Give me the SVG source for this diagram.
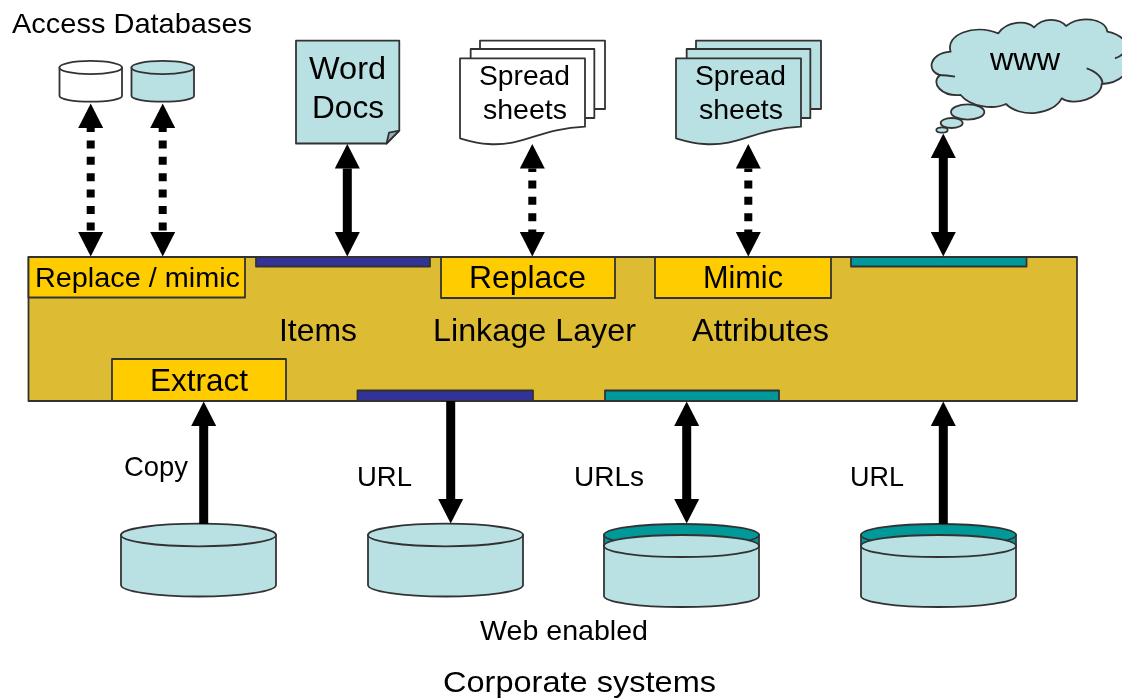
<svg xmlns="http://www.w3.org/2000/svg" width="1122" height="700" viewBox="0 0 1122 700">
<style>
text{font-family:"Liberation Sans",Arial,sans-serif;font-size:28px;fill:#000}
.w{font-size:32px}
.c{font-size:30px}
.s{stroke:#333;stroke-width:1.8;stroke-linejoin:round}
.z{stroke:#333;stroke-width:5.4;stroke-linejoin:round}
.y{fill:#FFCC00}.g{fill:#DDBB33}.n{fill:#333399}.t{fill:#009999}.b{fill:#B9E0E3}.e{fill:#fff}
.a{stroke:#000;fill:none}
.a1{stroke-width:9;marker-end:url(#h)}
.a2{stroke-width:9;marker-start:url(#h);marker-end:url(#h)}
.a3{stroke-width:8;stroke-dasharray:8 8.4;marker-start:url(#h);marker-end:url(#h)}
</style>
<defs>
<marker id="h" markerUnits="userSpaceOnUse" markerWidth="25" markerHeight="25" viewBox="0 0 25 25" refX="0" refY="12.5" orient="auto-start-reverse" overflow="visible"><path d="M0 0L24.500 12.500L0 25Z" fill="#000"/></marker>
<filter id="soft" x="0" y="0" width="100%" height="100%"><feGaussianBlur stdDeviation="0.45"/></filter>
</defs>
<rect width="1122" height="700" fill="#fff"/>
<g filter="url(#soft)">
<g id="linkage-layer">
<rect class="s g" x="28.500" y="257" width="1048.500" height="144"/>
<text class="w" x="279" y="341" textLength="78" lengthAdjust="spacingAndGlyphs">Items</text>
<text class="w" x="433" y="341" textLength="203" lengthAdjust="spacingAndGlyphs">Linkage Layer</text>
<text class="w" x="692" y="341" textLength="137" lengthAdjust="spacingAndGlyphs">Attributes</text>
</g>
<g id="replace-mimic"><rect class="s y" x="28.500" y="257" width="216.500" height="40.500"/><text x="35" y="287" textLength="205" lengthAdjust="spacingAndGlyphs">Replace / mimic</text></g>
<g id="bar-top-blue"><rect class="s n" x="256" y="257" width="174" height="9.500"/></g>
<g id="replace"><rect class="s y" x="441" y="257" width="174" height="41"/><text class="w" x="469" y="288" textLength="117" lengthAdjust="spacingAndGlyphs">Replace</text></g>
<g id="mimic"><rect class="s y" x="655" y="257" width="176" height="41"/><text class="w" x="703" y="288" textLength="80" lengthAdjust="spacingAndGlyphs">Mimic</text></g>
<g id="bar-top-teal"><rect class="s t" x="851" y="257" width="175.500" height="9.500"/></g>
<g id="extract"><rect class="s y" x="112" y="359" width="174" height="42"/><text class="w" x="150" y="391" textLength="98" lengthAdjust="spacingAndGlyphs">Extract</text></g>
<g id="bar-bottom-blue"><rect class="s n" x="357.500" y="390.500" width="175.500" height="10.500"/></g>
<g id="bar-bottom-teal"><rect class="s t" x="605" y="390.500" width="174" height="10.500"/></g>

<g id="access-label"><text x="12" y="33" textLength="240" lengthAdjust="spacingAndGlyphs">Access Databases</text></g>
<g id="access-db-1">
<path class="s e" d="M59.500 67.500V96A31.250 5.700 0 0 0 122 96V67.500Z"/><ellipse class="s e" cx="90.700" cy="67.500" rx="31.300" ry="6.700"/>
</g>
<g id="access-db-2">
<path class="s b" d="M131.500 67.500V96A31.250 5.700 0 0 0 194 96V67.500Z"/><ellipse class="s b" cx="162.700" cy="67.500" rx="31.300" ry="6.700"/>
</g>

<g id="word-docs">
<path class="s b" d="M296 40.700H399.300V130.700L386.500 143.500H296Z"/>
<path class="s" fill="#94B0B3" d="M386.500 143.500L389 132.700L399.300 130.700Z"/>
<text class="w" x="309" y="79" textLength="77" lengthAdjust="spacingAndGlyphs">Word</text>
<text class="w" x="312" y="118" textLength="72" lengthAdjust="spacingAndGlyphs">Docs</text>
</g>

<g id="spreadsheets-white">
<g transform="translate(440 0) scale(.33333)">
<rect class="z e" x="120" y="122" width="375" height="205"/>
<rect class="z e" x="92" y="147" width="371" height="207"/>
<path class="z e" d="M60 175H435V380C300 385 250 440 145 432C110 430 85 422 60 415Z"/>
</g>
<text x="479" y="85" textLength="91" lengthAdjust="spacingAndGlyphs">Spread</text>
<text x="483" y="119" textLength="84" lengthAdjust="spacingAndGlyphs">sheets</text>
</g>
<g id="spreadsheets-blue">
<g transform="translate(656 0) scale(.33333)">
<rect class="z b" x="120" y="122" width="375" height="205"/>
<rect class="z b" x="92" y="147" width="371" height="207"/>
<path class="z b" d="M60 175H435V380C300 385 250 440 145 432C110 430 85 422 60 415Z"/>
</g>
<text x="695" y="85" textLength="91" lengthAdjust="spacingAndGlyphs">Spread</text>
<text x="699" y="119" textLength="84" lengthAdjust="spacingAndGlyphs">sheets</text>
</g>

<g id="www-cloud">
<g transform="translate(830 0) scale(.33333)">
<path class="z b" d="M362 155C345 105 430 70 505 100C530 62 590 60 612 82C640 50 690 55 708 78C750 45 825 55 832 95C865 100 900 125 905 170C905 215 870 250 815 252C815 295 730 320 695 295C670 345 570 355 528 312C490 330 420 320 392 285C335 290 300 250 330 225C290 215 295 160 362 155Z"/>
<path class="z" fill="none" d="M855 175Q870 170 880 160M770 205C800 215 820 235 817 252M325 225Q350 225 375 230"/>
<ellipse class="z b" cx="413" cy="336" rx="50" ry="23"/>
<ellipse class="z b" cx="365" cy="369" rx="33" ry="15"/>
<ellipse class="z b" cx="336" cy="390" rx="17" ry="8"/>
</g>
<text class="w" x="990" y="70" textLength="70" lengthAdjust="spacingAndGlyphs">www</text>
</g>

<g id="corporate-db-1">
<path class="s b" d="M121 535V585A77.500 11.500 0 0 0 276 585V535Z"/><ellipse class="s b" cx="198.500" cy="535" rx="77.500" ry="11.300"/>
</g>
<g id="corporate-db-2">
<path class="s b" d="M368 535V585A77.500 11.500 0 0 0 523 585V535Z"/><ellipse class="s b" cx="445.500" cy="535" rx="77.500" ry="11.300"/>
</g>
<g id="corporate-db-3">
<path class="s b" d="M604 546V596A77.500 11 0 0 0 759 596V546Z"/>
<path class="s t" d="M604 535V546H759V535Z"/><ellipse class="s t" cx="681.500" cy="535" rx="77.500" ry="11"/>
<ellipse class="s b" cx="681.500" cy="546" rx="77.500" ry="11"/>
</g>
<g id="corporate-db-4">
<path class="s b" d="M861 546V596A77.500 11 0 0 0 1016 596V546Z"/>
<path class="s t" d="M861 535V546H1016V535Z"/><ellipse class="s t" cx="938.500" cy="535" rx="77.500" ry="11"/>
<ellipse class="s b" cx="938.500" cy="546" rx="77.500" ry="11"/>
</g>

<g id="connectors">
<line class="a a3" x1="90.700" y1="128" x2="90.700" y2="232" stroke-dashoffset="4"/>
<line class="a a3" x1="162.700" y1="128" x2="162.700" y2="232" stroke-dashoffset="4"/>
<line class="a a2" x1="347.300" y1="168.500" x2="347.300" y2="232"/>
<line class="a a3" x1="532.300" y1="168.500" x2="532.300" y2="232" stroke-dashoffset="4.500"/>
<line class="a a3" x1="748.300" y1="168.500" x2="748.300" y2="232" stroke-dashoffset="4.500"/>
<line class="a a2" x1="943.300" y1="158" x2="943.300" y2="232"/>
<line class="a a1" x1="203.700" y1="524" x2="203.700" y2="426"/>
<line class="a a1" x1="450.700" y1="401" x2="450.700" y2="499"/>
<line class="a a2" x1="686.700" y1="426" x2="686.700" y2="499"/>
<line class="a a1" x1="943.300" y1="524" x2="943.300" y2="426"/>
</g>

<g id="labels">
<text x="124" y="476" textLength="64" lengthAdjust="spacingAndGlyphs">Copy</text>
<text x="357" y="486" textLength="55" lengthAdjust="spacingAndGlyphs">URL</text>
<text x="574" y="486" textLength="70" lengthAdjust="spacingAndGlyphs">URLs</text>
<text x="850" y="486" textLength="54" lengthAdjust="spacingAndGlyphs">URL</text>
<text x="480" y="640" textLength="168" lengthAdjust="spacingAndGlyphs">Web enabled</text>
<text class="c" x="443" y="692" textLength="273" lengthAdjust="spacingAndGlyphs">Corporate systems</text>
</g>
</g>
</svg>
